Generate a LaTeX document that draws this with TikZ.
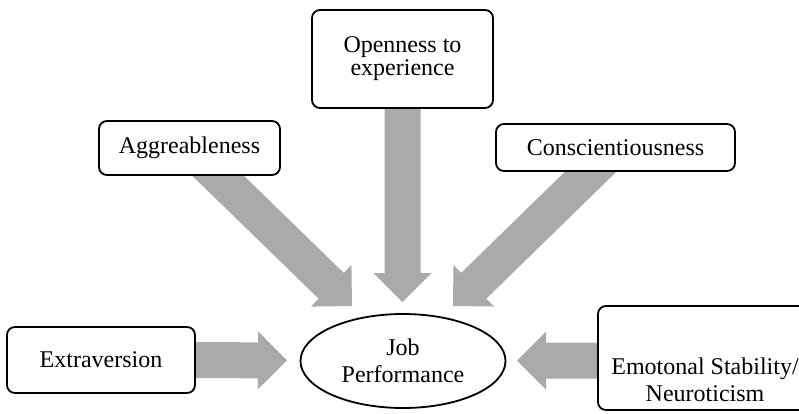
\documentclass[tikz,border=0pt]{standalone}
\usepackage{fontspec}
\setmainfont{Liberation Serif}
\usetikzlibrary{calc,shapes.geometric}
\pgfdeclarelayer{back}
\pgfsetlayers{back,main}
\definecolor{arrowgray}{RGB}{170,170,170}

\tikzset{
  x=1pt, y=-1pt,
  textfont/.style={font=\fontsize{24}{27}\selectfont, align=center},
  trait/.style={draw, line width=1.8pt, rounded corners=8pt, fill=white,
    inner sep=0pt, textfont},
  outcome/.style={ellipse, draw, line width=1.8pt, fill=white,
    inner sep=0pt, textfont},
  fatarrow/.style={fill=arrowgray},
}

% Block arrow from #1 to the tip #2: shaft 36pt wide, head 58pt wide, 29pt long
\newcommand\blockarrow[2]{%
  \coordinate (#2-base) at ($(#2)!29pt!(#1)$);
  \fill[fatarrow]
    ($(#1)!18pt!90:(#2)$) --
    ($(#2-base)!18pt!90:(#2)$) --
    ($(#2-base)!29pt!90:(#2)$) --
    (#2) --
    ($(#2-base)!29pt!-90:(#2)$) --
    ($(#2-base)!18pt!-90:(#2)$) --
    ($(#1)!18pt!-90:(#2)$) -- cycle;
}

\begin{document}
\begin{tikzpicture}
  \useasboundingbox (0,0) rectangle (799,413);

  % trait boxes
  \node[trait, minimum width=181pt, minimum height=98pt,
        font=\fontsize{24}{23}\selectfont] (open) at (402.5,59)
    {Openness to\\experience};
  \node[trait, minimum width=181pt, minimum height=54pt] (agg) at (189.5,148)
    {Aggreableness};
  \node[trait, minimum width=239pt, minimum height=47pt] (consc) at (615.5,147.5)
    {Conscientiousness};
  \node[trait, minimum width=188pt, minimum height=66pt] (extra) at (101,360)
    {Extraversion};
  \node[trait, minimum width=214pt, minimum height=104pt] (emo) at (705,358) {};
  \node[textfont, inner sep=0pt] (emotext) at (705,380)
    {Emotonal Stability/\\Neuroticism};

  % outcome
  \node[outcome, minimum width=205pt, minimum height=94pt] (job) at (403,361)
    {Job\\Performance};

  % arrow tips
  \coordinate (open-tip) at (402.5,302);
  \coordinate (agg-tip) at (352,306);
  \coordinate (consc-tip) at (453,306);
  \coordinate (extra-tip) at (287,360.5);
  \coordinate (emo-tip) at (517,360.5);
  \coordinate (emo-start) at (emo.west |- emo-tip);

  \begin{pgfonlayer}{back}
    \blockarrow{open.south}{open-tip}
    \blockarrow{agg.center}{agg-tip}
    \blockarrow{consc.center}{consc-tip}
    \blockarrow{extra.east}{extra-tip}
    \blockarrow{emo-start}{emo-tip}
  \end{pgfonlayer}
\end{tikzpicture}
\end{document}
